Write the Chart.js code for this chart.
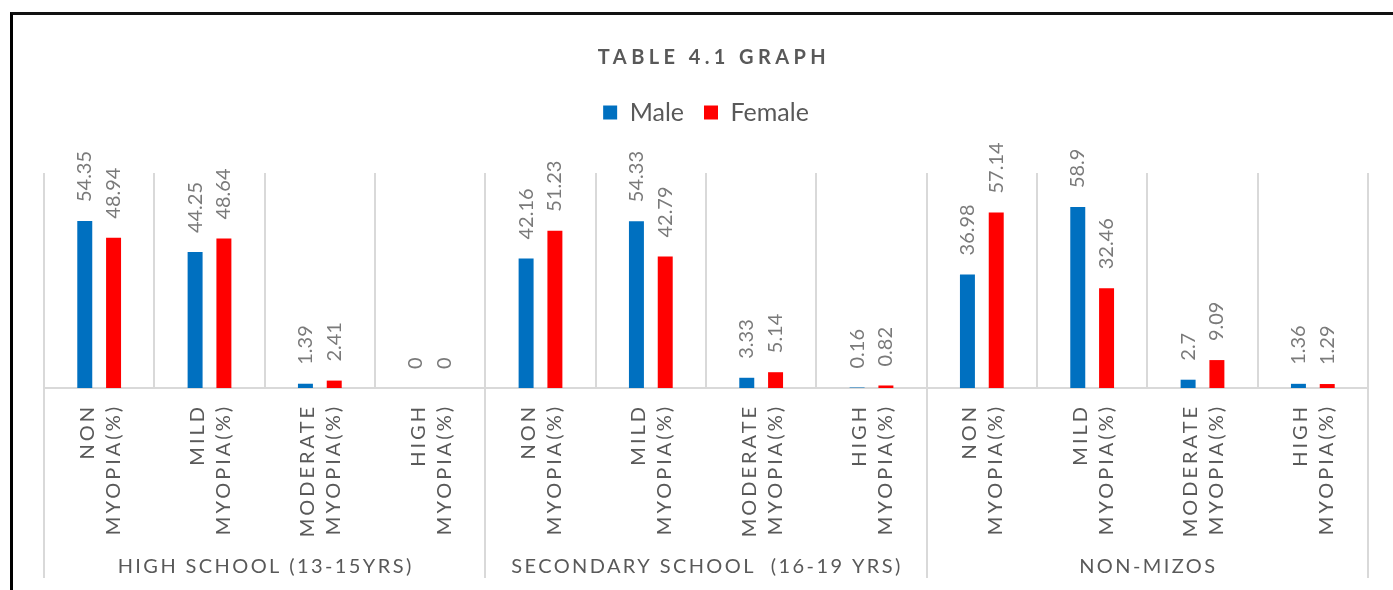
<!DOCTYPE html>
<html>
<head>
<meta charset="utf-8">
<title>Table 4.1 Graph</title>
<script src="https://cdn.jsdelivr.net/npm/chart.js@4.4.0/dist/chart.umd.min.js"></script>
<style>
  html, body { margin: 0; padding: 0; background: #fff; overflow: hidden; }
  #wrap { position: relative; width: 1393px; height: 590px; }
  #frame {
    position: absolute; left: 10px; top: 12px; width: 1420px; height: 620px;
    border-left: 3px solid #000; border-top: 3px solid #111; pointer-events: none;
  }
</style>
</head>
<body>
<div id="wrap">
  <canvas id="chart" width="1393" height="590" style="width:1393px;height:590px"></canvas>
  <div id="frame"></div>
</div>
<script>
const chartTitle = "TABLE 4.1 GRAPH";
const groups = ["HIGH SCHOOL (13-15YRS)", "SECONDARY SCHOOL  (16-19 YRS)", "NON-MIZOS"];
const categories = [
    ["NON", "MYOPIA(%)"], ["MILD", "MYOPIA(%)"], ["MODERATE", "MYOPIA(%)"], ["HIGH", "MYOPIA(%)"],
    ["NON", "MYOPIA(%)"], ["MILD", "MYOPIA(%)"], ["MODERATE", "MYOPIA(%)"], ["HIGH", "MYOPIA(%)"],
    ["NON", "MYOPIA(%)"], ["MILD", "MYOPIA(%)"], ["MODERATE", "MYOPIA(%)"], ["HIGH", "MYOPIA(%)"],
];
const seriesNames = ["Male", "Female"];
const maleValues = [54.35, 44.25, 1.39, 0, 42.16, 54.33, 3.33, 0.16, 36.98, 58.9, 2.7, 1.36];
const femaleValues = [48.94, 48.64, 2.41, 0, 51.23, 42.79, 5.14, 0.82, 57.14, 32.46, 9.09, 1.29];
const seriesColors = ["#0070C0", "#FF0000"];

const perGroup = categories.length / groups.length;
const textGray = "#595959";
const gridGray = "#d9d9d9";

// labels, category axis text and title, drawn like excel does (rotated, letter spaced)
const excelText = {
    id: "excelText",
    beforeInit(chart) {
        // push the plot area down below the legend
        const fitLegend = chart.legend.fit;
        chart.legend.fit = function () {
            fitLegend.bind(chart.legend)();
            this.height += 38;
        };
    },
    afterDraw(chart) {
        const ctx = chart.ctx;
        const xScale = chart.scales.x;
        const area = chart.chartArea;

        ctx.save();
        // value labels
        ctx.font = "20px Lato";
        ctx.fillStyle = "#7a7a7a";
        ctx.textAlign = "left";
        ctx.textBaseline = "middle";
        chart.data.datasets.forEach((ds, di) => {
            chart.getDatasetMeta(di).data.forEach((bar, i) => {
                ctx.save();
                ctx.translate(bar.x, bar.y - 19);
                ctx.rotate(-Math.PI / 2);
                ctx.fillText(String(ds.data[i]), 0, 0);
                ctx.restore();
            });
        });

        // category labels
        ctx.fillStyle = textGray;
        ctx.letterSpacing = "3px";
        ctx.textAlign = "right";
        categories.forEach((lines, i) => {
            const cx = xScale.getPixelForValue(i);
            lines.forEach((line, li) => {
                ctx.save();
                ctx.translate(cx + 1 + (li - (lines.length - 1) / 2) * 26, area.bottom + 16);
                ctx.rotate(-Math.PI / 2);
                ctx.fillText(line, 0, 0);
                ctx.restore();
            });
        });

        // group labels
        ctx.letterSpacing = "2.4px";
        ctx.textAlign = "center";
        ctx.textBaseline = "alphabetic";
        groups.forEach((g, gi) => {
            const gx = xScale.getPixelForValue(gi * perGroup + (perGroup - 1) / 2);
            ctx.fillText(g, gx + 1, area.bottom + 185);
        });

        // title
        ctx.font = "bold 20px Lato";
        ctx.letterSpacing = "4.4px";
        ctx.textAlign = "center";
        ctx.fillText(chartTitle, (area.left + area.right) / 2 + 8, 64);
        ctx.restore();
    }
};

new Chart(document.getElementById("chart"), {
    type: "bar",
    data: {
        labels: categories,
        datasets: [
            { label: seriesNames[0], data: maleValues, backgroundColor: seriesColors[0], borderWidth: 0 },
            { label: seriesNames[1], data: femaleValues, backgroundColor: seriesColors[1], borderWidth: 0 },
        ],
    },
    options: {
        responsive: false,
        animation: false,
        categoryPercentage: 0.522,
        barPercentage: 0.52,
        layout: { padding: { top: 80, left: 44, right: 25, bottom: 12 } },
        plugins: {
            tooltip: { enabled: false },
            title: { display: false },
            legend: {
                display: true,
                position: "top",
                labels: {
                    boxWidth: 14,
                    boxHeight: 14,
                    padding: 20,
                    color: textGray,
                    font: { family: "Lato", size: 25 },
                },
            },
        },
        scales: {
            x: {
                grid: {
                    display: true,
                    offset: true,
                    color: gridGray,
                    lineWidth: 2,
                    drawTicks: true,
                    tickLength: 190,
                    tickWidth: 2,
                    tickColor: (c) => (c.index === undefined || c.index % perGroup === 0) ? gridGray : "rgba(0,0,0,0)",
                },
                border: { display: true, color: gridGray, width: 2 },
                ticks: { display: false },
            },
            y: {
                display: false,
                min: 0,
                max: 70,
            },
        },
    },
    plugins: [excelText],
});
</script>
</body>
</html>
